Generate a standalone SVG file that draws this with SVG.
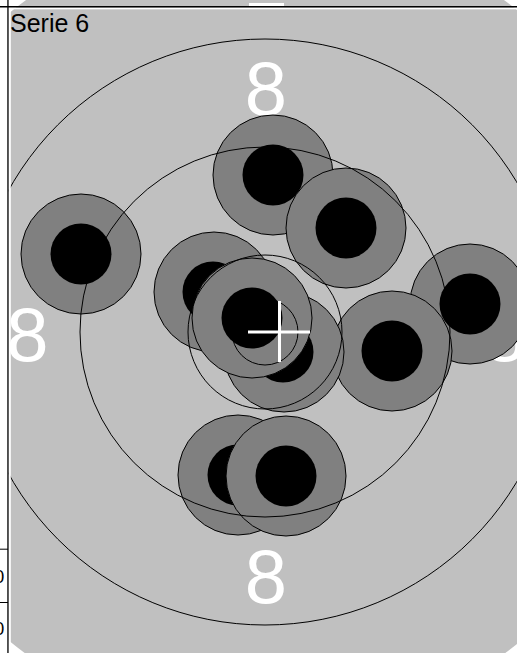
<svg xmlns="http://www.w3.org/2000/svg" width="517" height="653" viewBox="0 0 517 653">
<style>
.shot{fill:#808080;stroke:#000;stroke-width:1}
.core{fill:#000}
.ring{fill:none;stroke:#000;stroke-width:1}
.num{font-family:"Liberation Sans",Arial,sans-serif;font-size:76px;fill:#fff;text-anchor:middle}
.cell{font-family:"Liberation Sans",Arial,sans-serif;font-size:18px;fill:#000;text-anchor:end}
.title{font-family:"Liberation Sans",Arial,sans-serif;font-size:25px;fill:#000}
</style>
<rect width="517" height="653" fill="#fff"/>
<g id="target">
<circle cx="265" cy="327" r="405" fill="#c0c0c0"/>
</g>
<g id="ring-numbers">
<text class="num" x="266" y="115">8</text>
<text class="num" x="27.5" y="361">8</text>
<text class="num" x="266" y="603">8</text>
<text class="num" x="504.5" y="361">8</text>
<text class="num" x="266" y="706">7</text>
<rect x="249" y="3" width="35" height="3.5" fill="#fff"/>
</g>
<g id="shots">
<g id="shot1"><circle class="shot" cx="273" cy="175" r="60"/><circle class="core" cx="273" cy="175" r="30.5"/></g>
<g id="shot2"><circle class="shot" cx="346" cy="228" r="60"/><circle class="core" cx="346" cy="228" r="30.5"/></g>
<g id="shot3"><circle class="shot" cx="81" cy="254" r="60"/><circle class="core" cx="81" cy="254" r="30.5"/></g>
<g id="shot4"><circle class="shot" cx="214" cy="292" r="60"/><circle class="core" cx="213" cy="292" r="30.5"/></g>
<g id="shot5"><circle class="shot" cx="470" cy="304" r="60"/><circle class="core" cx="470" cy="304" r="30.5"/></g>
<g id="shot6"><circle class="shot" cx="392" cy="351" r="60"/><circle class="core" cx="392" cy="351" r="30.5"/></g>
<g id="shot7"><circle class="shot" cx="284" cy="352" r="60"/><circle class="core" cx="283" cy="352" r="30.5"/></g>
<g id="shot8"><circle class="shot" cx="252" cy="318" r="60"/><circle class="core" cx="252" cy="318" r="30.5"/></g>
<g id="shot9"><circle class="shot" cx="238" cy="475" r="60"/><circle class="core" cx="238" cy="475" r="30.5"/></g>
<g id="shot10"><circle class="shot" cx="286" cy="476" r="60"/><circle class="core" cx="286" cy="476" r="30.5"/></g>
</g>
<g id="rings">
<circle class="ring" cx="265" cy="332" r="33"/>
<circle class="ring" cx="265" cy="332" r="77"/>
<circle class="ring" cx="265" cy="332" r="185"/>
<circle class="ring" cx="265" cy="332" r="293"/>
</g>
<g id="center-cross" stroke="#fff" stroke-width="3" fill="none">
<path d="M248 332H310M279.5 301V362"/>
</g>
<g id="frame">
<rect x="0" y="0" width="8.6" height="653" fill="#fff"/>
<rect x="8.6" y="7.5" width="2.2" height="645.5" fill="#fff"/>
<rect x="0" y="7.5" width="517" height="1.8" fill="#fff"/>
<rect x="0" y="6" width="517" height="1.5" fill="#000"/>
<rect x="7.3" y="0" width="1.3" height="653" fill="#000"/>
<line x1="0" y1="549.2" x2="8" y2="549.2" stroke="#000" stroke-width="1"/>
<line x1="0" y1="602.5" x2="8" y2="602.5" stroke="#000" stroke-width="1"/>
<text class="cell" x="4.3" y="583">0</text>
<text class="cell" x="4.3" y="635">0</text>
</g>
<g id="label">
<text class="title" x="10" y="31.5">Serie 6</text>
</g>
</svg>
